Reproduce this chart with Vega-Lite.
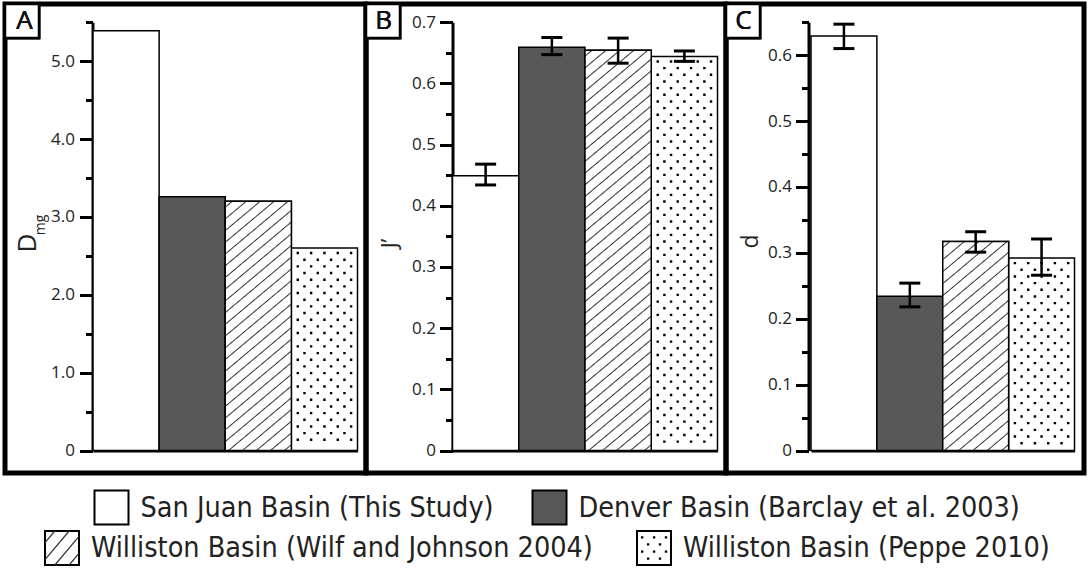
{
"$schema": "https://vega.github.io/schema/vega-lite/v6.json",
"background": "white",
"padding": {"left": -3, "top": -4, "right": 0, "bottom": 0},
"bounds": "flush",
"spacing": 0,
"config": {"view": {"stroke": "#000", "strokeWidth": 5}, "axis": {"grid": false}},
"hconcat": [
{
"width": 361, "height": 469,
"layer": [
{
"data": {"values": [
{"basin": "San Juan Basin (This Study)", "value": 5.39},
{"basin": "Denver Basin (Barclay et al. 2003)", "value": 3.26},
{"basin": "Williston Basin (Wilf and Johnson 2004)", "value": 3.2},
{"basin": "Williston Basin (Peppe 2010)", "value": 2.6}
]},
"encoding": {"x": {"field": "basin", "type": "nominal", "sort": null,
"scale": {"domain": ["San Juan Basin (This Study)", "Denver Basin (Barclay et al. 2003)", "Williston Basin (Wilf and Johnson 2004)", "Williston Basin (Peppe 2010)"], "range": [88, 352.5], "paddingInner": 0, "paddingOuter": 0},
"axis": {"orient": "bottom", "offset": -22.5, "domain": true, "domainWidth": 3, "domainColor": "#000", "ticks": false, "labels": false, "title": null, "grid": false}}},
"layer": [
{"mark": {"type": "bar", "stroke": "#000", "strokeWidth": 1.5},
"encoding": {
"y": {"field": "value", "type": "quantitative", "scale": {"domain": [0, 5.5], "range": [446.5, 18.2], "nice": false, "zero": false},
"axis": {"orient": "left", "offset": -87.5, "values": [0, 1, 2, 3, 4, 5], "tickSize": 13, "tickWidth": 3, "tickColor": "#000", "domain": true, "domainWidth": 3, "domainColor": "#000", "grid": false, "labelExpr": "datum.value === 0 ? '0' : format(datum.value, '.1f')", "labelFont": "Open Sans", "labelFontSize": 17, "labelColor": "#222", "labelPadding": 5, "title": "D", "titleFont": "Open Sans", "titleFontSize": 26, "titleFontWeight": "normal", "titleColor": "#222", "titleX": -65, "titleY": 238.5, "titleAngle": 270, "titleAlign": "center", "titleBaseline": "middle"}},
"fill": {"field": "basin", "type": "nominal", "scale": {"domain": ["San Juan Basin (This Study)", "Denver Basin (Barclay et al. 2003)", "Williston Basin (Wilf and Johnson 2004)", "Williston Basin (Peppe 2010)"], "range": ["#ffffff", "#585858", "#ffffff", "#ffffff"]}, "legend": null}
}},
{"transform": [{"filter": {"field": "basin", "equal": "Williston Basin (Wilf and Johnson 2004)"}}],
"mark": {"type": "bar", "stroke": "#000", "strokeWidth": 1.5, "fill": {"gradient": "linear", "x1": 0, "y1": 0, "x2": 0.2593, "y2": 1.1649, "stops": [
{"offset":0.0149,"color":"#fff"},{"offset":0.0192,"color":"#333"},{"offset":0.0235,"color":"#fff"},
{"offset":0.0534,"color":"#fff"},{"offset":0.0577,"color":"#333"},{"offset":0.0620,"color":"#fff"},
{"offset":0.0919,"color":"#fff"},{"offset":0.0962,"color":"#333"},{"offset":0.1005,"color":"#fff"},
{"offset":0.1303,"color":"#fff"},{"offset":0.1346,"color":"#333"},{"offset":0.1389,"color":"#fff"},
{"offset":0.1688,"color":"#fff"},{"offset":0.1731,"color":"#333"},{"offset":0.1774,"color":"#fff"},
{"offset":0.2072,"color":"#fff"},{"offset":0.2115,"color":"#333"},{"offset":0.2158,"color":"#fff"},
{"offset":0.2457,"color":"#fff"},{"offset":0.2500,"color":"#333"},{"offset":0.2543,"color":"#fff"},
{"offset":0.2842,"color":"#fff"},{"offset":0.2885,"color":"#333"},{"offset":0.2928,"color":"#fff"},
{"offset":0.3226,"color":"#fff"},{"offset":0.3269,"color":"#333"},{"offset":0.3312,"color":"#fff"},
{"offset":0.3611,"color":"#fff"},{"offset":0.3654,"color":"#333"},{"offset":0.3697,"color":"#fff"},
{"offset":0.3995,"color":"#fff"},{"offset":0.4038,"color":"#333"},{"offset":0.4081,"color":"#fff"},
{"offset":0.4380,"color":"#fff"},{"offset":0.4423,"color":"#333"},{"offset":0.4466,"color":"#fff"},
{"offset":0.4765,"color":"#fff"},{"offset":0.4808,"color":"#333"},{"offset":0.4851,"color":"#fff"},
{"offset":0.5149,"color":"#fff"},{"offset":0.5192,"color":"#333"},{"offset":0.5235,"color":"#fff"},
{"offset":0.5534,"color":"#fff"},{"offset":0.5577,"color":"#333"},{"offset":0.5620,"color":"#fff"},
{"offset":0.5919,"color":"#fff"},{"offset":0.5962,"color":"#333"},{"offset":0.6005,"color":"#fff"},
{"offset":0.6303,"color":"#fff"},{"offset":0.6346,"color":"#333"},{"offset":0.6389,"color":"#fff"},
{"offset":0.6688,"color":"#fff"},{"offset":0.6731,"color":"#333"},{"offset":0.6774,"color":"#fff"},
{"offset":0.7072,"color":"#fff"},{"offset":0.7115,"color":"#333"},{"offset":0.7158,"color":"#fff"},
{"offset":0.7457,"color":"#fff"},{"offset":0.7500,"color":"#333"},{"offset":0.7543,"color":"#fff"},
{"offset":0.7842,"color":"#fff"},{"offset":0.7885,"color":"#333"},{"offset":0.7928,"color":"#fff"},
{"offset":0.8226,"color":"#fff"},{"offset":0.8269,"color":"#333"},{"offset":0.8312,"color":"#fff"},
{"offset":0.8611,"color":"#fff"},{"offset":0.8654,"color":"#333"},{"offset":0.8697,"color":"#fff"},
{"offset":0.8995,"color":"#fff"},{"offset":0.9038,"color":"#333"},{"offset":0.9081,"color":"#fff"},
{"offset":0.9380,"color":"#fff"},{"offset":0.9423,"color":"#333"},{"offset":0.9466,"color":"#fff"},
{"offset":0.9765,"color":"#fff"},{"offset":0.9808,"color":"#333"},{"offset":0.9851,"color":"#fff"}
]}},
"encoding": {"y": {"field": "value", "type": "quantitative",
"axis": {"orient": "left", "offset": -87.5, "values": [0.5, 1.5, 2.5, 3.5, 4.5, 5.5], "tickSize": 7, "tickWidth": 3, "tickColor": "#000", "domain": false, "labels": false, "grid": false, "title": "mg", "titleFont": "Open Sans", "titleFontSize": 14, "titleFontWeight": "normal", "titleColor": "#222", "titleX": -52.3, "titleY": 220.5, "titleAngle": 270, "titleAlign": "center", "titleBaseline": "middle"}}}},
{"transform": [{"filter": {"field": "basin", "equal": "Williston Basin (Peppe 2010)"}}],
"mark": {"type": "point", "size": 4, "filled": false, "stroke": "#000", "strokeWidth": 2.4, "strokeCap": "square", "opacity": 1,
"shape": "M-26.66,5h0.01m13.32,0h0.01m13.32,0h0.01m13.32,0h0.01m13.32,0h0.01M-20,11.67h0.01m13.32,0h0.01m13.32,0h0.01m13.32,0h0.01M-26.66,18.34h0.01m13.32,0h0.01m13.32,0h0.01m13.32,0h0.01m13.32,0h0.01M-20,25.01h0.01m13.32,0h0.01m13.32,0h0.01m13.32,0h0.01M-26.66,31.68h0.01m13.32,0h0.01m13.32,0h0.01m13.32,0h0.01m13.32,0h0.01M-20,38.35h0.01m13.32,0h0.01m13.32,0h0.01m13.32,0h0.01M-26.66,45.02h0.01m13.32,0h0.01m13.32,0h0.01m13.32,0h0.01m13.32,0h0.01M-20,51.69h0.01m13.32,0h0.01m13.32,0h0.01m13.32,0h0.01M-26.66,58.36h0.01m13.32,0h0.01m13.32,0h0.01m13.32,0h0.01m13.32,0h0.01M-20,65.03h0.01m13.32,0h0.01m13.32,0h0.01m13.32,0h0.01M-26.66,71.7h0.01m13.32,0h0.01m13.32,0h0.01m13.32,0h0.01m13.32,0h0.01M-20,78.37h0.01m13.32,0h0.01m13.32,0h0.01m13.32,0h0.01M-26.66,85.04h0.01m13.32,0h0.01m13.32,0h0.01m13.32,0h0.01m13.32,0h0.01M-20,91.71h0.01m13.32,0h0.01m13.32,0h0.01m13.32,0h0.01M-26.66,98.38h0.01m13.32,0h0.01m13.32,0h0.01m13.32,0h0.01m13.32,0h0.01M-20,105.05h0.01m13.32,0h0.01m13.32,0h0.01m13.32,0h0.01M-26.66,111.72h0.01m13.32,0h0.01m13.32,0h0.01m13.32,0h0.01m13.32,0h0.01M-20,118.39h0.01m13.32,0h0.01m13.32,0h0.01m13.32,0h0.01M-26.66,125.06h0.01m13.32,0h0.01m13.32,0h0.01m13.32,0h0.01m13.32,0h0.01M-20,131.73h0.01m13.32,0h0.01m13.32,0h0.01m13.32,0h0.01M-26.66,138.4h0.01m13.32,0h0.01m13.32,0h0.01m13.32,0h0.01m13.32,0h0.01M-20,145.07h0.01m13.32,0h0.01m13.32,0h0.01m13.32,0h0.01M-26.66,151.74h0.01m13.32,0h0.01m13.32,0h0.01m13.32,0h0.01m13.32,0h0.01M-20,158.41h0.01m13.32,0h0.01m13.32,0h0.01m13.32,0h0.01M-26.66,165.08h0.01m13.32,0h0.01m13.32,0h0.01m13.32,0h0.01m13.32,0h0.01M-20,171.75h0.01m13.32,0h0.01m13.32,0h0.01m13.32,0h0.01M-26.66,178.42h0.01m13.32,0h0.01m13.32,0h0.01m13.32,0h0.01m13.32,0h0.01M-20,185.09h0.01m13.32,0h0.01m13.32,0h0.01m13.32,0h0.01M-26.66,191.76h0.01m13.32,0h0.01m13.32,0h0.01m13.32,0h0.01m13.32,0h0.01"},
"encoding": {"y": {"field": "value", "type": "quantitative", "axis": null}}},
{"mark": {"type": "point", "shape": "square", "size": 1156, "filled": true, "fill": "#fff", "stroke": "#000", "strokeWidth": 2.5, "opacity": 1, "xOffset": -71, "yOffset": -1.2},
"encoding": {"x": {"datum": "San Juan Basin (This Study)", "bandPosition": 0}, "y": {"datum": 5.5, "axis": null}}},
{"mark": {"type": "text", "text": "A", "font": "Open Sans", "fontSize": 26, "align": "center", "baseline": "middle", "color": "#111", "xOffset": -68.5, "yOffset": -1},
"encoding": {"x": {"datum": "San Juan Basin (This Study)", "bandPosition": 0}, "y": {"datum": 5.5, "axis": null}}}
],
"resolve": {"axis": {"y": "independent"}}
},
{
"data": {"values": [
{"basin": "San Juan Basin (This Study)", "row": 1},
{"basin": "Denver Basin (Barclay et al. 2003)", "row": 1},
{"basin": "Williston Basin (Wilf and Johnson 2004)", "row": 2},
{"basin": "Williston Basin (Peppe 2010)", "row": 2}
]},
"encoding": {"y": {"field": "row", "type": "ordinal", "scale": {"type": "point", "domain": [1, 2], "range": [503.5, 544], "padding": 0}, "axis": null}},
"layer": [
{"transform": [{"filter": "datum.row === 1"}],
"encoding": {"x": {"field": "basin", "type": "nominal", "scale": {"type": "point", "domain": ["San Juan Basin (This Study)", "Denver Basin (Barclay et al. 2003)"], "range": [106.5, 544.5], "padding": 0}, "axis": null}},
"layer": [
{"mark": {"type": "point", "shape": "square", "size": 1156, "filled": true, "stroke": "#000", "strokeWidth": 2, "opacity": 1},
"encoding": {"fill": {"field": "basin", "type": "nominal", "scale": {"domain": ["San Juan Basin (This Study)", "Denver Basin (Barclay et al. 2003)"], "range": ["#ffffff", "#585858"]}, "legend": null}}},
{"mark": {"type": "text", "align": "left", "baseline": "middle", "dx": 29, "font": "Liberation Sans Narrow, DejaVu Sans Condensed, sans-serif", "fontSize": 28.5, "color": "#222"},
"encoding": {"text": {"field": "basin"}}}
]},
{"transform": [{"filter": "datum.row === 2"}],
"encoding": {"x": {"field": "basin", "type": "nominal", "scale": {"type": "point", "domain": ["Williston Basin (Wilf and Johnson 2004)", "Williston Basin (Peppe 2010)"], "range": [57, 649], "padding": 0}, "axis": null}},
"layer": [
{"mark": {"type": "point", "shape": "square", "size": 1156, "filled": true, "fill": "#fff", "stroke": "#000", "strokeWidth": 2, "opacity": 1}},
{"transform": [{"filter": {"field": "basin", "equal": "Williston Basin (Wilf and Johnson 2004)"}}],
"mark": {"type": "point", "shape": "M-1,-0.31L-0.42,-1M-1,0.69L0.42,-1M-0.42,1L1,-0.69M0.42,1L1,0.31", "size": 1156, "filled": false, "stroke": "#333", "strokeWidth": 1.2, "opacity": 1}},
{"transform": [{"filter": {"field": "basin", "equal": "Williston Basin (Peppe 2010)"}}],
"mark": {"type": "point", "shape": "M-0.7,-0.62h0.01M0,-0.62h0.01M0.7,-0.62h0.01M-0.35,-0.21h0.01M0.35,-0.21h0.01M-0.7,0.21h0.01M0,0.21h0.01M0.7,0.21h0.01M-0.35,0.62h0.01M0.35,0.62h0.01", "size": 1156, "filled": false, "stroke": "#000", "strokeWidth": 2.2, "strokeCap": "square", "opacity": 1}},
{"mark": {"type": "text", "align": "left", "baseline": "middle", "dx": 29, "font": "Liberation Sans Narrow, DejaVu Sans Condensed, sans-serif", "fontSize": 28.5, "color": "#222"},
"encoding": {"text": {"field": "basin"}}}
]}
],
"resolve": {"scale": {"x": "independent"}}
}
],
"resolve": {"scale": {"x": "independent", "y": "independent", "fill": "independent"}, "axis": {"x": "independent", "y": "independent"}}
},
{
"width": 360, "height": 469,
"data": {"values": [
{"basin": "San Juan Basin (This Study)", "value": 0.449, "lo": 0.434, "hi": 0.468},
{"basin": "Denver Basin (Barclay et al. 2003)", "value": 0.659, "lo": 0.647, "hi": 0.675},
{"basin": "Williston Basin (Wilf and Johnson 2004)", "value": 0.654, "lo": 0.633, "hi": 0.674},
{"basin": "Williston Basin (Peppe 2010)", "value": 0.644, "lo": 0.636, "hi": 0.653}
]},
"encoding": {"x": {"field": "basin", "type": "nominal", "sort": null,
"scale": {"domain": ["San Juan Basin (This Study)", "Denver Basin (Barclay et al. 2003)", "Williston Basin (Wilf and Johnson 2004)", "Williston Basin (Peppe 2010)"], "range": [86.5, 351.5], "paddingInner": 0, "paddingOuter": 0},
"axis": {"orient": "bottom", "offset": -22.5, "domain": true, "domainWidth": 3, "domainColor": "#000", "ticks": false, "labels": false, "title": null, "grid": false}}},
"layer": [
{"mark": {"type": "bar", "stroke": "#000", "strokeWidth": 1.5},
"encoding": {
"y": {"field": "value", "type": "quantitative", "scale": {"domain": [0, 0.7], "range": [446.5, 18.2], "nice": false, "zero": false},
"axis": {"orient": "left", "offset": -86.5, "values": [0, 0.1, 0.2, 0.3, 0.4, 0.5, 0.6, 0.7], "tickSize": 13, "tickWidth": 3, "tickColor": "#000", "domain": true, "domainWidth": 3, "domainColor": "#000", "grid": false, "labelExpr": "datum.value === 0 ? '0' : format(datum.value, '.1f')", "labelFont": "Open Sans", "labelFontSize": 17, "labelColor": "#222", "labelPadding": 4, "title": "J\u2019", "titleFont": "Open Sans", "titleFontSize": 22, "titleFontWeight": "normal", "titleColor": "#222", "titleX": -63.5, "titleY": 239, "titleAngle": 270, "titleAlign": "center", "titleBaseline": "middle"}},
"fill": {"field": "basin", "type": "nominal", "scale": {"domain": ["San Juan Basin (This Study)", "Denver Basin (Barclay et al. 2003)", "Williston Basin (Wilf and Johnson 2004)", "Williston Basin (Peppe 2010)"], "range": ["#ffffff", "#585858", "#ffffff", "#ffffff"]}, "legend": null}
}},
{"transform": [{"filter": {"field": "basin", "equal": "Williston Basin (Wilf and Johnson 2004)"}}],
"mark": {"type": "bar", "stroke": "#000", "strokeWidth": 1.5, "fill": {"gradient": "linear", "x1": 0, "y1": 0, "x2": 0.155, "y2": 1.1175, "stops": [
{"offset":0.0099,"color":"#fff"},{"offset":0.0128,"color":"#333"},{"offset":0.0157,"color":"#fff"},
{"offset":0.0356,"color":"#fff"},{"offset":0.0385,"color":"#333"},{"offset":0.0414,"color":"#fff"},
{"offset":0.0612,"color":"#fff"},{"offset":0.0641,"color":"#333"},{"offset":0.0670,"color":"#fff"},
{"offset":0.0868,"color":"#fff"},{"offset":0.0897,"color":"#333"},{"offset":0.0926,"color":"#fff"},
{"offset":0.1125,"color":"#fff"},{"offset":0.1154,"color":"#333"},{"offset":0.1183,"color":"#fff"},
{"offset":0.1381,"color":"#fff"},{"offset":0.1410,"color":"#333"},{"offset":0.1439,"color":"#fff"},
{"offset":0.1638,"color":"#fff"},{"offset":0.1667,"color":"#333"},{"offset":0.1696,"color":"#fff"},
{"offset":0.1894,"color":"#fff"},{"offset":0.1923,"color":"#333"},{"offset":0.1952,"color":"#fff"},
{"offset":0.2151,"color":"#fff"},{"offset":0.2180,"color":"#333"},{"offset":0.2209,"color":"#fff"},
{"offset":0.2407,"color":"#fff"},{"offset":0.2436,"color":"#333"},{"offset":0.2465,"color":"#fff"},
{"offset":0.2663,"color":"#fff"},{"offset":0.2692,"color":"#333"},{"offset":0.2721,"color":"#fff"},
{"offset":0.2920,"color":"#fff"},{"offset":0.2949,"color":"#333"},{"offset":0.2978,"color":"#fff"},
{"offset":0.3176,"color":"#fff"},{"offset":0.3205,"color":"#333"},{"offset":0.3234,"color":"#fff"},
{"offset":0.3433,"color":"#fff"},{"offset":0.3462,"color":"#333"},{"offset":0.3491,"color":"#fff"},
{"offset":0.3689,"color":"#fff"},{"offset":0.3718,"color":"#333"},{"offset":0.3747,"color":"#fff"},
{"offset":0.3945,"color":"#fff"},{"offset":0.3974,"color":"#333"},{"offset":0.4003,"color":"#fff"},
{"offset":0.4202,"color":"#fff"},{"offset":0.4231,"color":"#333"},{"offset":0.4260,"color":"#fff"},
{"offset":0.4458,"color":"#fff"},{"offset":0.4487,"color":"#333"},{"offset":0.4516,"color":"#fff"},
{"offset":0.4715,"color":"#fff"},{"offset":0.4744,"color":"#333"},{"offset":0.4773,"color":"#fff"},
{"offset":0.4971,"color":"#fff"},{"offset":0.5000,"color":"#333"},{"offset":0.5029,"color":"#fff"},
{"offset":0.5227,"color":"#fff"},{"offset":0.5256,"color":"#333"},{"offset":0.5285,"color":"#fff"},
{"offset":0.5484,"color":"#fff"},{"offset":0.5513,"color":"#333"},{"offset":0.5542,"color":"#fff"},
{"offset":0.5740,"color":"#fff"},{"offset":0.5769,"color":"#333"},{"offset":0.5798,"color":"#fff"},
{"offset":0.5997,"color":"#fff"},{"offset":0.6026,"color":"#333"},{"offset":0.6055,"color":"#fff"},
{"offset":0.6253,"color":"#fff"},{"offset":0.6282,"color":"#333"},{"offset":0.6311,"color":"#fff"},
{"offset":0.6509,"color":"#fff"},{"offset":0.6538,"color":"#333"},{"offset":0.6567,"color":"#fff"},
{"offset":0.6766,"color":"#fff"},{"offset":0.6795,"color":"#333"},{"offset":0.6824,"color":"#fff"},
{"offset":0.7022,"color":"#fff"},{"offset":0.7051,"color":"#333"},{"offset":0.7080,"color":"#fff"},
{"offset":0.7279,"color":"#fff"},{"offset":0.7308,"color":"#333"},{"offset":0.7337,"color":"#fff"},
{"offset":0.7535,"color":"#fff"},{"offset":0.7564,"color":"#333"},{"offset":0.7593,"color":"#fff"},
{"offset":0.7792,"color":"#fff"},{"offset":0.7821,"color":"#333"},{"offset":0.7850,"color":"#fff"},
{"offset":0.8048,"color":"#fff"},{"offset":0.8077,"color":"#333"},{"offset":0.8106,"color":"#fff"},
{"offset":0.8304,"color":"#fff"},{"offset":0.8333,"color":"#333"},{"offset":0.8362,"color":"#fff"},
{"offset":0.8561,"color":"#fff"},{"offset":0.8590,"color":"#333"},{"offset":0.8619,"color":"#fff"},
{"offset":0.8817,"color":"#fff"},{"offset":0.8846,"color":"#333"},{"offset":0.8875,"color":"#fff"},
{"offset":0.9074,"color":"#fff"},{"offset":0.9103,"color":"#333"},{"offset":0.9132,"color":"#fff"},
{"offset":0.9330,"color":"#fff"},{"offset":0.9359,"color":"#333"},{"offset":0.9388,"color":"#fff"},
{"offset":0.9586,"color":"#fff"},{"offset":0.9615,"color":"#333"},{"offset":0.9644,"color":"#fff"},
{"offset":0.9843,"color":"#fff"},{"offset":0.9872,"color":"#333"},{"offset":0.9901,"color":"#fff"}
]}},
"encoding": {"y": {"field": "value", "type": "quantitative",
"axis": {"orient": "left", "offset": -86.5, "values": [0.05, 0.15, 0.25, 0.35, 0.45, 0.55, 0.65], "tickSize": 7, "tickWidth": 3, "tickColor": "#000", "domain": false, "labels": false, "grid": false, "title": null}}}},
{"transform": [{"filter": {"field": "basin", "equal": "Williston Basin (Peppe 2010)"}}],
"mark": {"type": "point", "size": 4, "filled": false, "stroke": "#000", "strokeWidth": 2.4, "strokeCap": "square", "opacity": 1,
"shape": "M-26.66,5h0.01m13.32,0h0.01m13.32,0h0.01m13.32,0h0.01m13.32,0h0.01M-20,11.67h0.01m13.32,0h0.01m13.32,0h0.01m13.32,0h0.01M-26.66,18.34h0.01m13.32,0h0.01m13.32,0h0.01m13.32,0h0.01m13.32,0h0.01M-20,25.01h0.01m13.32,0h0.01m13.32,0h0.01m13.32,0h0.01M-26.66,31.68h0.01m13.32,0h0.01m13.32,0h0.01m13.32,0h0.01m13.32,0h0.01M-20,38.35h0.01m13.32,0h0.01m13.32,0h0.01m13.32,0h0.01M-26.66,45.02h0.01m13.32,0h0.01m13.32,0h0.01m13.32,0h0.01m13.32,0h0.01M-20,51.69h0.01m13.32,0h0.01m13.32,0h0.01m13.32,0h0.01M-26.66,58.36h0.01m13.32,0h0.01m13.32,0h0.01m13.32,0h0.01m13.32,0h0.01M-20,65.03h0.01m13.32,0h0.01m13.32,0h0.01m13.32,0h0.01M-26.66,71.7h0.01m13.32,0h0.01m13.32,0h0.01m13.32,0h0.01m13.32,0h0.01M-20,78.37h0.01m13.32,0h0.01m13.32,0h0.01m13.32,0h0.01M-26.66,85.04h0.01m13.32,0h0.01m13.32,0h0.01m13.32,0h0.01m13.32,0h0.01M-20,91.71h0.01m13.32,0h0.01m13.32,0h0.01m13.32,0h0.01M-26.66,98.38h0.01m13.32,0h0.01m13.32,0h0.01m13.32,0h0.01m13.32,0h0.01M-20,105.05h0.01m13.32,0h0.01m13.32,0h0.01m13.32,0h0.01M-26.66,111.72h0.01m13.32,0h0.01m13.32,0h0.01m13.32,0h0.01m13.32,0h0.01M-20,118.39h0.01m13.32,0h0.01m13.32,0h0.01m13.32,0h0.01M-26.66,125.06h0.01m13.32,0h0.01m13.32,0h0.01m13.32,0h0.01m13.32,0h0.01M-20,131.73h0.01m13.32,0h0.01m13.32,0h0.01m13.32,0h0.01M-26.66,138.4h0.01m13.32,0h0.01m13.32,0h0.01m13.32,0h0.01m13.32,0h0.01M-20,145.07h0.01m13.32,0h0.01m13.32,0h0.01m13.32,0h0.01M-26.66,151.74h0.01m13.32,0h0.01m13.32,0h0.01m13.32,0h0.01m13.32,0h0.01M-20,158.41h0.01m13.32,0h0.01m13.32,0h0.01m13.32,0h0.01M-26.66,165.08h0.01m13.32,0h0.01m13.32,0h0.01m13.32,0h0.01m13.32,0h0.01M-20,171.75h0.01m13.32,0h0.01m13.32,0h0.01m13.32,0h0.01M-26.66,178.42h0.01m13.32,0h0.01m13.32,0h0.01m13.32,0h0.01m13.32,0h0.01M-20,185.09h0.01m13.32,0h0.01m13.32,0h0.01m13.32,0h0.01M-26.66,191.76h0.01m13.32,0h0.01m13.32,0h0.01m13.32,0h0.01m13.32,0h0.01M-20,198.43h0.01m13.32,0h0.01m13.32,0h0.01m13.32,0h0.01M-26.66,205.1h0.01m13.32,0h0.01m13.32,0h0.01m13.32,0h0.01m13.32,0h0.01M-20,211.77h0.01m13.32,0h0.01m13.32,0h0.01m13.32,0h0.01M-26.66,218.44h0.01m13.32,0h0.01m13.32,0h0.01m13.32,0h0.01m13.32,0h0.01M-20,225.11h0.01m13.32,0h0.01m13.32,0h0.01m13.32,0h0.01M-26.66,231.78h0.01m13.32,0h0.01m13.32,0h0.01m13.32,0h0.01m13.32,0h0.01M-20,238.45h0.01m13.32,0h0.01m13.32,0h0.01m13.32,0h0.01M-26.66,245.12h0.01m13.32,0h0.01m13.32,0h0.01m13.32,0h0.01m13.32,0h0.01M-20,251.79h0.01m13.32,0h0.01m13.32,0h0.01m13.32,0h0.01M-26.66,258.46h0.01m13.32,0h0.01m13.32,0h0.01m13.32,0h0.01m13.32,0h0.01M-20,265.13h0.01m13.32,0h0.01m13.32,0h0.01m13.32,0h0.01M-26.66,271.8h0.01m13.32,0h0.01m13.32,0h0.01m13.32,0h0.01m13.32,0h0.01M-20,278.47h0.01m13.32,0h0.01m13.32,0h0.01m13.32,0h0.01M-26.66,285.14h0.01m13.32,0h0.01m13.32,0h0.01m13.32,0h0.01m13.32,0h0.01M-20,291.81h0.01m13.32,0h0.01m13.32,0h0.01m13.32,0h0.01M-26.66,298.48h0.01m13.32,0h0.01m13.32,0h0.01m13.32,0h0.01m13.32,0h0.01M-20,305.15h0.01m13.32,0h0.01m13.32,0h0.01m13.32,0h0.01M-26.66,311.82h0.01m13.32,0h0.01m13.32,0h0.01m13.32,0h0.01m13.32,0h0.01M-20,318.49h0.01m13.32,0h0.01m13.32,0h0.01m13.32,0h0.01M-26.66,325.16h0.01m13.32,0h0.01m13.32,0h0.01m13.32,0h0.01m13.32,0h0.01M-20,331.83h0.01m13.32,0h0.01m13.32,0h0.01m13.32,0h0.01M-26.66,338.5h0.01m13.32,0h0.01m13.32,0h0.01m13.32,0h0.01m13.32,0h0.01M-20,345.17h0.01m13.32,0h0.01m13.32,0h0.01m13.32,0h0.01M-26.66,351.84h0.01m13.32,0h0.01m13.32,0h0.01m13.32,0h0.01m13.32,0h0.01M-20,358.51h0.01m13.32,0h0.01m13.32,0h0.01m13.32,0h0.01M-26.66,365.18h0.01m13.32,0h0.01m13.32,0h0.01m13.32,0h0.01m13.32,0h0.01M-20,371.85h0.01m13.32,0h0.01m13.32,0h0.01m13.32,0h0.01M-26.66,378.52h0.01m13.32,0h0.01m13.32,0h0.01m13.32,0h0.01m13.32,0h0.01M-20,385.19h0.01m13.32,0h0.01m13.32,0h0.01m13.32,0h0.01"},
"encoding": {"y": {"field": "value", "type": "quantitative", "axis": null}}},
{"mark": {"type": "rule", "strokeWidth": 2.5, "color": "#000"},
"encoding": {"y": {"field": "lo", "type": "quantitative", "axis": null}, "y2": {"field": "hi"}}},
{"mark": {"type": "tick", "orient": "horizontal", "size": 21, "thickness": 3, "color": "#000", "opacity": 1},
"encoding": {"y": {"field": "lo", "type": "quantitative", "axis": null}}},
{"mark": {"type": "tick", "orient": "horizontal", "size": 21, "thickness": 3, "color": "#000", "opacity": 1},
"encoding": {"y": {"field": "hi", "type": "quantitative", "axis": null}}},
{"mark": {"type": "point", "shape": "square", "size": 1156, "filled": true, "fill": "#fff", "stroke": "#000", "strokeWidth": 2.5, "opacity": 1, "xOffset": -69.5, "yOffset": -1.2},
"encoding": {"x": {"datum": "San Juan Basin (This Study)", "bandPosition": 0}, "y": {"datum": 0.7, "axis": null}}},
{"mark": {"type": "text", "text": "B", "font": "Open Sans", "fontSize": 26, "align": "center", "baseline": "middle", "color": "#111", "xOffset": -68.8, "yOffset": -1},
"encoding": {"x": {"datum": "San Juan Basin (This Study)", "bandPosition": 0}, "y": {"datum": 0.7, "axis": null}}}
],
"resolve": {"axis": {"y": "independent"}}
},
{
"width": 358, "height": 469,
"data": {"values": [
{"basin": "San Juan Basin (This Study)", "value": 0.629, "lo": 0.610, "hi": 0.647},
{"basin": "Denver Basin (Barclay et al. 2003)", "value": 0.234, "lo": 0.218, "hi": 0.254},
{"basin": "Williston Basin (Wilf and Johnson 2004)", "value": 0.317, "lo": 0.301, "hi": 0.332},
{"basin": "Williston Basin (Peppe 2010)", "value": 0.292, "lo": 0.266, "hi": 0.321}
]},
"encoding": {"x": {"field": "basin", "type": "nominal", "sort": null,
"scale": {"domain": ["San Juan Basin (This Study)", "Denver Basin (Barclay et al. 2003)", "Williston Basin (Wilf and Johnson 2004)", "Williston Basin (Peppe 2010)"], "range": [85, 348.5], "paddingInner": 0, "paddingOuter": 0},
"axis": {"orient": "bottom", "offset": -22.5, "domain": true, "domainWidth": 3, "domainColor": "#000", "ticks": false, "labels": false, "title": null, "grid": false}}},
"layer": [
{"mark": {"type": "bar", "stroke": "#000", "strokeWidth": 1.5},
"encoding": {
"y": {"field": "value", "type": "quantitative", "scale": {"domain": [0, 0.65], "range": [446.5, 18.2], "nice": false, "zero": false},
"axis": {"orient": "left", "offset": -82.5, "values": [0, 0.1, 0.2, 0.3, 0.4, 0.5, 0.6], "tickSize": 13, "tickWidth": 3, "tickColor": "#000", "domain": true, "domainWidth": 3, "domainColor": "#000", "grid": false, "labelExpr": "datum.value === 0 ? '0' : format(datum.value, '.1f')", "labelFont": "Open Sans", "labelFontSize": 17, "labelColor": "#222", "labelPadding": 4, "title": "d", "titleFont": "Open Sans", "titleFontSize": 23, "titleFontWeight": "normal", "titleColor": "#222", "titleX": -58, "titleY": 237, "titleAngle": 270, "titleAlign": "center", "titleBaseline": "middle"}},
"fill": {"field": "basin", "type": "nominal", "scale": {"domain": ["San Juan Basin (This Study)", "Denver Basin (Barclay et al. 2003)", "Williston Basin (Wilf and Johnson 2004)", "Williston Basin (Peppe 2010)"], "range": ["#ffffff", "#585858", "#ffffff", "#ffffff"]}, "legend": null}
}},
{"transform": [{"filter": {"field": "basin", "equal": "Williston Basin (Wilf and Johnson 2004)"}}],
"mark": {"type": "bar", "stroke": "#000", "strokeWidth": 1.5, "fill": {"gradient": "linear", "x1": 0, "y1": 0, "x2": 0.3134, "y2": 1.1822, "stops": [
{"offset":0.0178,"color":"#fff"},{"offset":0.0227,"color":"#333"},{"offset":0.0276,"color":"#fff"},
{"offset":0.0633,"color":"#fff"},{"offset":0.0682,"color":"#333"},{"offset":0.0731,"color":"#fff"},
{"offset":0.1087,"color":"#fff"},{"offset":0.1136,"color":"#333"},{"offset":0.1185,"color":"#fff"},
{"offset":0.1542,"color":"#fff"},{"offset":0.1591,"color":"#333"},{"offset":0.1640,"color":"#fff"},
{"offset":0.1996,"color":"#fff"},{"offset":0.2045,"color":"#333"},{"offset":0.2094,"color":"#fff"},
{"offset":0.2451,"color":"#fff"},{"offset":0.2500,"color":"#333"},{"offset":0.2549,"color":"#fff"},
{"offset":0.2906,"color":"#fff"},{"offset":0.2955,"color":"#333"},{"offset":0.3004,"color":"#fff"},
{"offset":0.3360,"color":"#fff"},{"offset":0.3409,"color":"#333"},{"offset":0.3458,"color":"#fff"},
{"offset":0.3815,"color":"#fff"},{"offset":0.3864,"color":"#333"},{"offset":0.3913,"color":"#fff"},
{"offset":0.4269,"color":"#fff"},{"offset":0.4318,"color":"#333"},{"offset":0.4367,"color":"#fff"},
{"offset":0.4724,"color":"#fff"},{"offset":0.4773,"color":"#333"},{"offset":0.4822,"color":"#fff"},
{"offset":0.5178,"color":"#fff"},{"offset":0.5227,"color":"#333"},{"offset":0.5276,"color":"#fff"},
{"offset":0.5633,"color":"#fff"},{"offset":0.5682,"color":"#333"},{"offset":0.5731,"color":"#fff"},
{"offset":0.6087,"color":"#fff"},{"offset":0.6136,"color":"#333"},{"offset":0.6185,"color":"#fff"},
{"offset":0.6542,"color":"#fff"},{"offset":0.6591,"color":"#333"},{"offset":0.6640,"color":"#fff"},
{"offset":0.6996,"color":"#fff"},{"offset":0.7045,"color":"#333"},{"offset":0.7094,"color":"#fff"},
{"offset":0.7451,"color":"#fff"},{"offset":0.7500,"color":"#333"},{"offset":0.7549,"color":"#fff"},
{"offset":0.7906,"color":"#fff"},{"offset":0.7955,"color":"#333"},{"offset":0.8004,"color":"#fff"},
{"offset":0.8360,"color":"#fff"},{"offset":0.8409,"color":"#333"},{"offset":0.8458,"color":"#fff"},
{"offset":0.8815,"color":"#fff"},{"offset":0.8864,"color":"#333"},{"offset":0.8913,"color":"#fff"},
{"offset":0.9269,"color":"#fff"},{"offset":0.9318,"color":"#333"},{"offset":0.9367,"color":"#fff"},
{"offset":0.9724,"color":"#fff"},{"offset":0.9773,"color":"#333"},{"offset":0.9822,"color":"#fff"}
]}},
"encoding": {"y": {"field": "value", "type": "quantitative",
"axis": {"orient": "left", "offset": -82.5, "values": [0.05, 0.15, 0.25, 0.35, 0.45, 0.55, 0.65], "tickSize": 7, "tickWidth": 3, "tickColor": "#000", "domain": false, "labels": false, "grid": false, "title": null}}}},
{"transform": [{"filter": {"field": "basin", "equal": "Williston Basin (Peppe 2010)"}}],
"mark": {"type": "point", "size": 4, "filled": false, "stroke": "#000", "strokeWidth": 2.4, "strokeCap": "square", "opacity": 1,
"shape": "M-26.66,5h0.01m13.32,0h0.01m13.32,0h0.01m13.32,0h0.01m13.32,0h0.01M-20,11.67h0.01m13.32,0h0.01m13.32,0h0.01m13.32,0h0.01M-26.66,18.34h0.01m13.32,0h0.01m13.32,0h0.01m13.32,0h0.01m13.32,0h0.01M-20,25.01h0.01m13.32,0h0.01m13.32,0h0.01m13.32,0h0.01M-26.66,31.68h0.01m13.32,0h0.01m13.32,0h0.01m13.32,0h0.01m13.32,0h0.01M-20,38.35h0.01m13.32,0h0.01m13.32,0h0.01m13.32,0h0.01M-26.66,45.02h0.01m13.32,0h0.01m13.32,0h0.01m13.32,0h0.01m13.32,0h0.01M-20,51.69h0.01m13.32,0h0.01m13.32,0h0.01m13.32,0h0.01M-26.66,58.36h0.01m13.32,0h0.01m13.32,0h0.01m13.32,0h0.01m13.32,0h0.01M-20,65.03h0.01m13.32,0h0.01m13.32,0h0.01m13.32,0h0.01M-26.66,71.7h0.01m13.32,0h0.01m13.32,0h0.01m13.32,0h0.01m13.32,0h0.01M-20,78.37h0.01m13.32,0h0.01m13.32,0h0.01m13.32,0h0.01M-26.66,85.04h0.01m13.32,0h0.01m13.32,0h0.01m13.32,0h0.01m13.32,0h0.01M-20,91.71h0.01m13.32,0h0.01m13.32,0h0.01m13.32,0h0.01M-26.66,98.38h0.01m13.32,0h0.01m13.32,0h0.01m13.32,0h0.01m13.32,0h0.01M-20,105.05h0.01m13.32,0h0.01m13.32,0h0.01m13.32,0h0.01M-26.66,111.72h0.01m13.32,0h0.01m13.32,0h0.01m13.32,0h0.01m13.32,0h0.01M-20,118.39h0.01m13.32,0h0.01m13.32,0h0.01m13.32,0h0.01M-26.66,125.06h0.01m13.32,0h0.01m13.32,0h0.01m13.32,0h0.01m13.32,0h0.01M-20,131.73h0.01m13.32,0h0.01m13.32,0h0.01m13.32,0h0.01M-26.66,138.4h0.01m13.32,0h0.01m13.32,0h0.01m13.32,0h0.01m13.32,0h0.01M-20,145.07h0.01m13.32,0h0.01m13.32,0h0.01m13.32,0h0.01M-26.66,151.74h0.01m13.32,0h0.01m13.32,0h0.01m13.32,0h0.01m13.32,0h0.01M-20,158.41h0.01m13.32,0h0.01m13.32,0h0.01m13.32,0h0.01M-26.66,165.08h0.01m13.32,0h0.01m13.32,0h0.01m13.32,0h0.01m13.32,0h0.01M-20,171.75h0.01m13.32,0h0.01m13.32,0h0.01m13.32,0h0.01M-26.66,178.42h0.01m13.32,0h0.01m13.32,0h0.01m13.32,0h0.01m13.32,0h0.01M-20,185.09h0.01m13.32,0h0.01m13.32,0h0.01m13.32,0h0.01"},
"encoding": {"y": {"field": "value", "type": "quantitative", "axis": null}}},
{"mark": {"type": "rule", "strokeWidth": 2.5, "color": "#000"},
"encoding": {"y": {"field": "lo", "type": "quantitative", "axis": null}, "y2": {"field": "hi"}}},
{"mark": {"type": "tick", "orient": "horizontal", "size": 21, "thickness": 3, "color": "#000", "opacity": 1},
"encoding": {"y": {"field": "lo", "type": "quantitative", "axis": null}}},
{"mark": {"type": "tick", "orient": "horizontal", "size": 21, "thickness": 3, "color": "#000", "opacity": 1},
"encoding": {"y": {"field": "hi", "type": "quantitative", "axis": null}}},
{"mark": {"type": "point", "shape": "square", "size": 1156, "filled": true, "fill": "#fff", "stroke": "#000", "strokeWidth": 2.5, "opacity": 1, "xOffset": -68, "yOffset": -1.2},
"encoding": {"x": {"datum": "San Juan Basin (This Study)", "bandPosition": 0}, "y": {"datum": 0.65, "axis": null}}},
{"mark": {"type": "text", "text": "C", "font": "Open Sans", "fontSize": 26, "align": "center", "baseline": "middle", "color": "#111", "xOffset": -67.5, "yOffset": -1},
"encoding": {"x": {"datum": "San Juan Basin (This Study)", "bandPosition": 0}, "y": {"datum": 0.65, "axis": null}}}
],
"resolve": {"axis": {"y": "independent"}}
}
]
}
